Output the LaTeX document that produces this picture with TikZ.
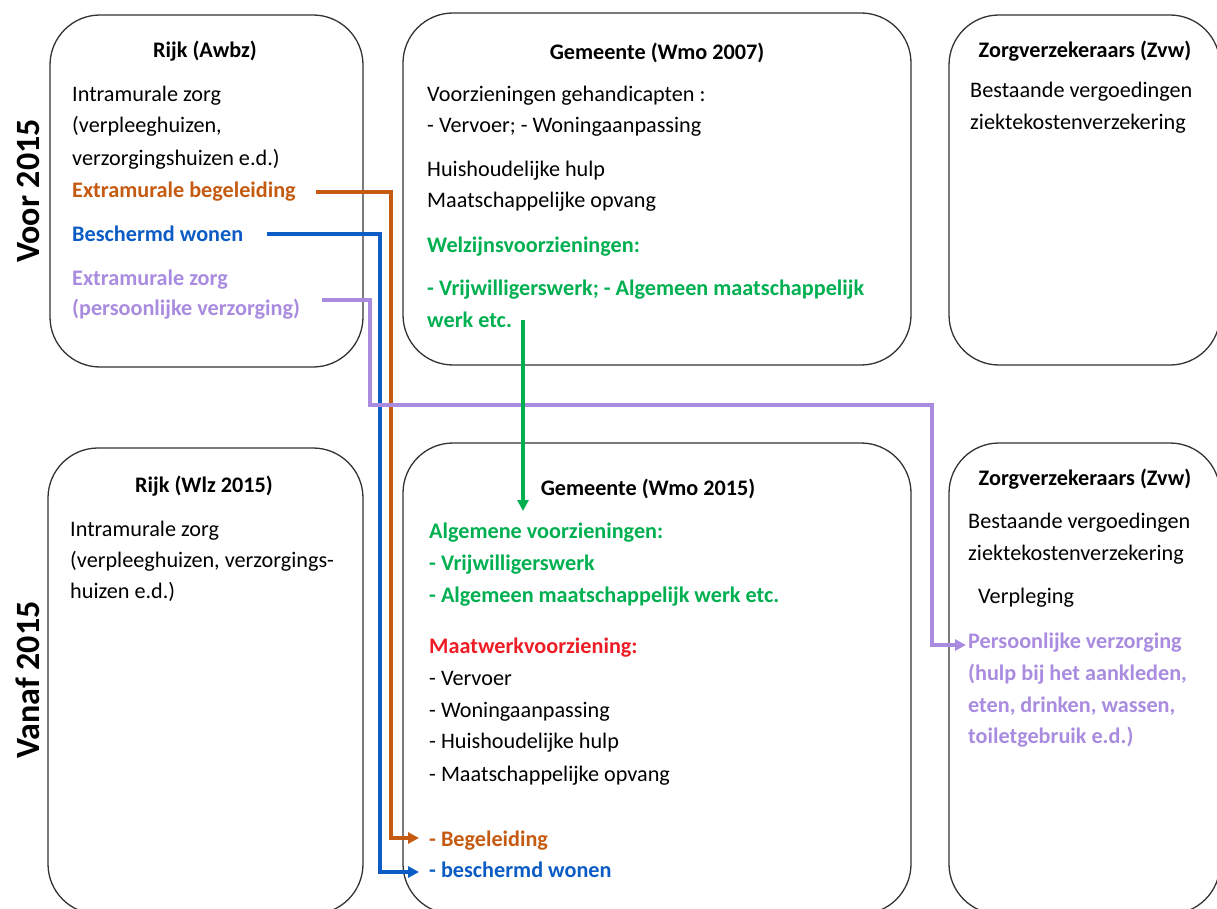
\documentclass[tikz,border=0pt]{standalone}
\usepackage{fontspec}
\setmainfont{Carlito}
\usetikzlibrary{arrows.meta}
\definecolor{corange}{HTML}{C55A11}
\definecolor{cblue}{HTML}{0B5CC4}
\definecolor{cpurple}{HTML}{A98CE0}
\definecolor{cgreen}{HTML}{00B050}
\definecolor{cred}{HTML}{EE1C25}
\newcommand{\fsz}{\fontsize{22.2}{26}\selectfont}
\tikzset{
  box/.style={draw=black!80, line width=1.3pt, rounded corners=50pt, inner sep=0pt},
  txt/.style={anchor=base west, inner sep=0pt, font=\fsz},
  ttl/.style={anchor=base, inner sep=0pt, font=\fsz\bfseries},
  era/.style={rotate=90, inner sep=0pt, font=\fontsize{34}{38}\selectfont\bfseries},
  conn/.style={line width=3.5pt, -{Triangle[length=11pt,width=11pt]}}
}
\begin{document}
\begin{tikzpicture}[x=1pt,y=-1pt]
\useasboundingbox (0,0) rectangle (1217,909);
% boxes
\node[box, minimum width=313pt, minimum height=352pt] (b11) at (206.5,191) {};
\node[box, minimum width=508pt, minimum height=352pt] (b12) at (657,189) {};
\node[box, minimum width=271pt, minimum height=350pt] (b13) at (1084.5,190) {};
\node[box, minimum width=315pt, minimum height=466pt] (b21) at (205.5,681) {};
\node[box, minimum width=508pt, minimum height=471pt] (b22) at (657,678.5) {};
\node[box, minimum width=271pt, minimum height=471pt] (b23) at (1084.5,678.5) {};
% era labels
\node[era] (voor) at (28,191) {Voor 2015};
\node[era] (vanaf) at (28,680) {Vanaf 2015};
% top-left
\node[ttl] (t11) at (205,58) {Rijk (Awbz)};
\node[txt] (a1) at (72,102) {Intramurale zorg};
\node[txt] (a2) at (72,133) {(verpleeghuizen,};
\node[txt] (a3) at (72,166) {verzorgingshuizen e.d.)};
\node[txt, text=corange, font=\fsz\bfseries] (eb) at (72,198) {Extramurale begeleiding};
\node[txt, text=cblue, font=\fsz\bfseries] (bw) at (72,241) {Beschermd wonen};
\node[txt, text=cpurple, font=\fsz\bfseries] (ez1) at (72,285) {Extramurale zorg};
\node[txt, text=cpurple, font=\fsz\bfseries] (ez2) at (72,315) {(persoonlijke verzorging)};
% top-middle
\node[ttl] (t12) at (657,60) {Gemeente (Wmo 2007)};
\node[txt] (m1) at (427,102) {Voorzieningen gehandicapten :};
\node[txt] (m2) at (427,133) {- Vervoer; - Woningaanpassing};
\node[txt] (m3) at (427,177) {Huishoudelijke hulp};
\node[txt] (m4) at (427,208) {Maatschappelijke opvang};
\node[txt, text=cgreen, font=\fsz\bfseries] (m5) at (427,252) {Welzijnsvoorzieningen:};
\node[txt, text=cgreen, font=\fsz\bfseries] (m6) at (427,295) {- Vrijwilligerswerk; - Algemeen maatschappelijk};
\node[txt, text=cgreen, font=\fsz\bfseries] (m7) at (427,327) {werk etc.};
% top-right
\node[ttl] (t13) at (1085,58) {Zorgverzekeraars (Zvw)};
\node[txt] (r1) at (970,98) {Bestaande vergoedingen};
\node[txt] (r2) at (970,130) {ziektekostenverzekering};
% bottom-left
\node[ttl] (t21) at (204,492) {Rijk (Wlz 2015)};
\node[txt] (c1) at (70,536) {Intramurale zorg};
\node[txt] (c2) at (70,567) {(verpleeghuizen, verzorgings-};
\node[txt] (c3) at (70,598) {huizen e.d.)};
% bottom-middle
\node[ttl] (t22) at (648,495) {Gemeente (Wmo 2015)};
\node[txt, text=cgreen, font=\fsz\bfseries] (n1) at (429,538) {Algemene voorzieningen:};
\node[txt, text=cgreen, font=\fsz\bfseries] (n2) at (429,570) {- Vrijwilligerswerk};
\node[txt, text=cgreen, font=\fsz\bfseries] (n3) at (429,602) {- Algemeen maatschappelijk werk etc.};
\node[txt, text=cred, font=\fsz\bfseries] (n4) at (429,653) {Maatwerkvoorziening:};
\node[txt] (n5) at (429,685) {- Vervoer};
\node[txt] (n6) at (429,717) {- Woningaanpassing};
\node[txt] (n7) at (429,748) {- Huishoudelijke hulp};
\node[txt] (n8) at (429,781) {- Maatschappelijke opvang};
\node[txt, text=corange, font=\fsz\bfseries] (n9) at (429,846) {- Begeleiding};
\node[txt, text=cblue, font=\fsz\bfseries] (n10) at (429,877) {- beschermd wonen};
% bottom-right
\node[ttl] (t23) at (1085,485) {Zorgverzekeraars (Zvw)};
\node[txt] (s1) at (968,528) {Bestaande vergoedingen};
\node[txt] (s2) at (968,560) {ziektekostenverzekering};
\node[txt] (s3) at (978,603) {Verpleging};
\node[txt, text=cpurple, font=\fsz\bfseries] (s4) at (968,648) {Persoonlijke verzorging};
\node[txt, text=cpurple, font=\fsz\bfseries] (s5) at (968,680) {(hulp bij het aankleden,};
\node[txt, text=cpurple, font=\fsz\bfseries] (s6) at (968,712) {eten, drinken, wassen,};
\node[txt, text=cpurple, font=\fsz\bfseries] (s7) at (968,743) {toiletgebruik e.d.)};
% connector helper coordinates
\coordinate (os) at (316,192);
\coordinate (oe) at (419,838);
\coordinate (bs) at (267,234);
\coordinate (be) at (419,872);
\coordinate (ps) at (322,300);
\coordinate (pe) at (966,645);
\coordinate (gs) at (523,320);
\coordinate (ge) at (523,511);
% connectors
\draw[conn, corange] (os) -- (391,192) -- (391,838) -- (oe);
\draw[conn, cblue] (bs) -- (380,234) -- (380,872) -- (be);
\draw[conn, cpurple] (ps) -- (370,300) -- (370,405) -- (932,405) -- (932,645) -- (pe);
\draw[conn, cgreen] (gs) -- (ge);
\end{tikzpicture}
\end{document}
